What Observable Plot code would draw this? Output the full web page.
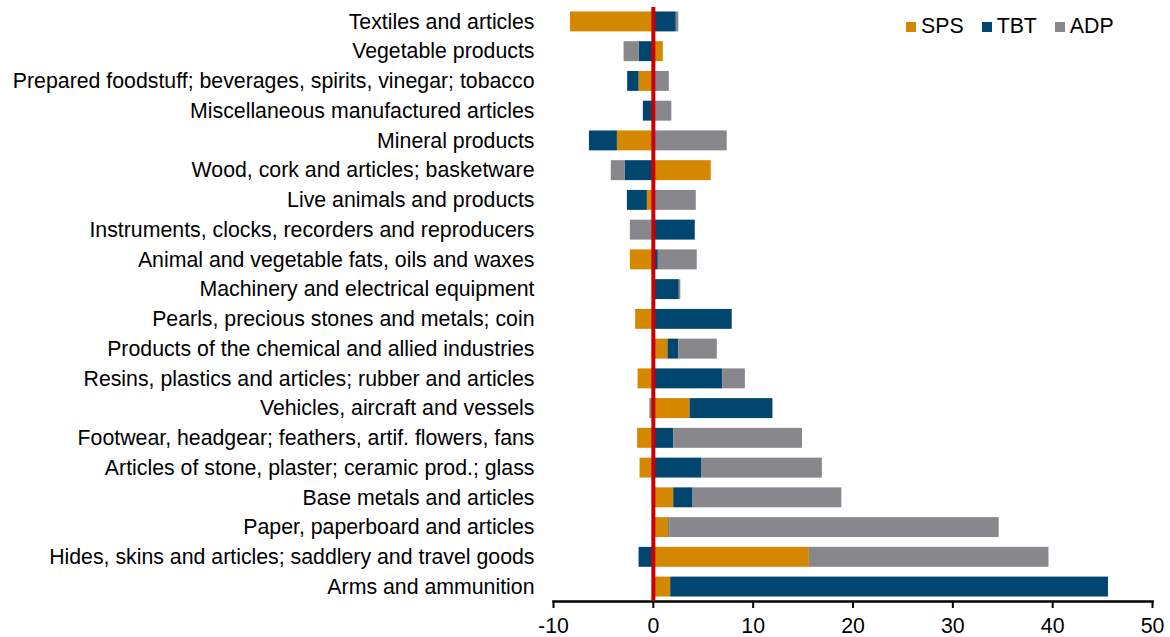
<!DOCTYPE html>
<html>
<head>
<meta charset="utf-8">
<script src="https://cdn.jsdelivr.net/npm/d3@7"></script>
<script src="https://cdn.jsdelivr.net/npm/@observablehq/plot@0.6"></script>
<style>
  html, body { margin: 0; padding: 0; background: #fff; }
  #wrap { position: relative; width: 1170px; height: 637px; font-family: "Liberation Sans", Arial, sans-serif; }
  #legend { position: absolute; left: 906px; top: 14px; display: flex; gap: 18px; font-size: 21.3px; line-height: 25px; color: #000; }
  #legend .item { display: flex; align-items: center; }
  #legend .sw { width: 10px; height: 10px; margin-right: 5px; }
  svg g[aria-label="x-axis tick"] { stroke-width: 2; }
</style>
</head>
<body>
<div id="wrap"><div id="legend"></div></div>
<script>
const categories = [
  "Textiles and articles",
  "Vegetable products",
  "Prepared foodstuff; beverages, spirits, vinegar; tobacco",
  "Miscellaneous manufactured articles",
  "Mineral products",
  "Wood, cork and articles; basketware",
  "Live animals and products",
  "Instruments, clocks, recorders and reproducers",
  "Animal and vegetable fats, oils and waxes",
  "Machinery and electrical equipment",
  "Pearls, precious stones and metals; coin",
  "Products of the chemical and allied industries",
  "Resins, plastics and articles; rubber and articles",
  "Vehicles, aircraft and vessels",
  "Footwear, headgear; feathers, artif. flowers, fans",
  "Articles of stone, plaster; ceramic prod.; glass",
  "Base metals and articles",
  "Paper, paperboard and articles",
  "Hides, skins and articles; saddlery and travel goods",
  "Arms and ammunition"
];
const seriesNames = ["SPS", "TBT", "ADP"];
const seriesColors = ["#D48800", "#00466E", "#88878C"];
const sps = [-8.3, 1.0, -1.43, 0, -3.6, 5.8, -0.6, 0, -2.3, 0, -1.77, 1.47, -1.53, 3.68, -1.57, -1.33, 2.04, 1.57, 15.63, 1.74];
const tbt = [2.3, -1.43, -1.14, -1.0, -2.8, -2.84, -2.0, 4.2, 0.5, 2.6, 7.9, 1.07, 6.95, 8.3, 2.04, 4.88, 1.94, 0.07, -1.43, 43.85];
const adp = [0.25, -1.5, 1.6, 1.85, 7.4, -1.37, 4.3, -2.3, 3.9, 0.15, 0, 3.87, 2.27, -0.35, 12.9, 12.05, 14.9, 33.0, 24.0, 0];
const xTicks = [-10, 0, 10, 20, 30, 40, 50];

const seriesValues = [sps, tbt, adp];
const rows = [];
categories.forEach((c, i) => {
  seriesNames.forEach((s, k) => {
    rows.push({category: c, series: s, value: seriesValues[k][i]});
  });
});

const chart = Plot.plot({
  width: 1170,
  height: 637,
  marginLeft: 553,
  marginRight: 18,
  marginTop: 7,
  marginBottom: 36,
  style: {fontSize: "21.3px", fontFamily: "'Liberation Sans', Arial, sans-serif", color: "#000", background: "transparent"},
  x: {domain: [-10, 50], ticks: xTicks, tickSize: 7, tickPadding: 9, tickFormat: d => String(d), label: null},
  y: {domain: categories, paddingInner: 0.33, paddingOuter: 0.15, round: false, tickSize: 0, tickPadding: 19, label: null},
  color: {domain: seriesNames, range: seriesColors},
  marks: [
    Plot.barX(rows, Plot.stackX({y: "category", x: "value", fill: "series", order: seriesNames, inset: 0})),
    Plot.frame({anchor: "bottom", strokeWidth: 2.5, stroke: "#000"}),
    Plot.ruleX([0], {stroke: "#CC0000", strokeWidth: 4})
  ]
});
document.getElementById("wrap").prepend(chart);

const legend = document.getElementById("legend");
seriesNames.forEach((s, k) => {
  const item = document.createElement("div");
  item.className = "item";
  const sw = document.createElement("span");
  sw.className = "sw";
  sw.style.background = seriesColors[k];
  const t = document.createElement("span");
  t.textContent = s;
  item.appendChild(sw);
  item.appendChild(t);
  legend.appendChild(item);
});
</script>
</body>
</html>
